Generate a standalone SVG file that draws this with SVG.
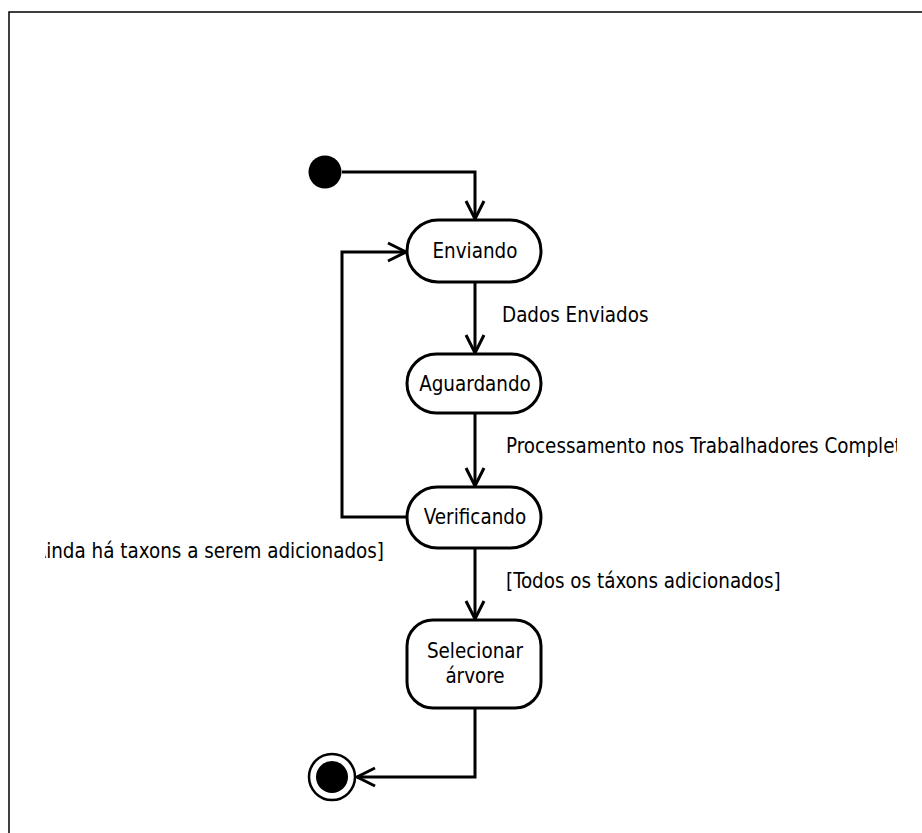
<svg xmlns="http://www.w3.org/2000/svg" width="922" height="833" viewBox="0 0 922 833">
  <style>
    .node { fill: #ffffff; stroke: #000000; stroke-width: 3; }
    .edge { fill: none; stroke: #000000; stroke-width: 3; }
    .lbl { font-family: "DejaVu Sans Condensed", "DejaVu Sans", sans-serif; font-stretch: condensed; font-size: 20.4px; fill: #000000; }
    .mid { text-anchor: middle; }
  </style>
  <defs>
    <marker id="arrow" markerUnits="userSpaceOnUse" markerWidth="40" markerHeight="40" viewBox="-20 -20 40 40" refX="0" refY="0" orient="auto" overflow="visible">
      <path d="M-18,-9 L0,0 L-18,9" fill="none" stroke="#000000" stroke-width="3"/>
    </marker>
    <clipPath id="clipLeft"><rect x="45" y="520" width="400" height="60"/></clipPath>
    <clipPath id="clipRight"><rect x="490" y="420" width="407" height="50"/></clipPath>
  </defs>
  <rect x="0" y="0" width="922" height="833" fill="#ffffff"/>
  <path d="M9,833 V12 H922" fill="none" stroke="#000000" stroke-width="1.5"/>

  <g id="connectors">
    <path class="edge" d="M342,172 H475 V219" marker-end="url(#arrow)"/>
    <path class="edge" d="M475,282 V353" marker-end="url(#arrow)"/>
    <path class="edge" d="M475,413 V486" marker-end="url(#arrow)"/>
    <path class="edge" d="M407,517 H342 V252 H406" marker-end="url(#arrow)"/>
    <path class="edge" d="M475,548 V619" marker-end="url(#arrow)"/>
    <path class="edge" d="M475,708 V777 H357" marker-end="url(#arrow)"/>
    <text class="lbl" x="502" y="322">Dados Enviados</text>
    <g clip-path="url(#clipRight)"><text class="lbl" x="506" y="453">Processamento nos Trabalhadores Complet</text></g>
    <g clip-path="url(#clipLeft)"><text class="lbl" x="384" y="558" text-anchor="end">[Ainda há taxons a serem adicionados]</text></g>
    <text class="lbl" x="506" y="588">[Todos os táxons adicionados]</text>
  </g>

  <g id="initial">
    <circle cx="325" cy="172" r="16.5" fill="#000000"/>
  </g>
  <g id="enviando">
    <rect class="node" x="407" y="220" width="134" height="62" rx="31" ry="31"/>
    <text class="lbl mid" x="475" y="258">Enviando</text>
  </g>
  <g id="aguardando">
    <rect class="node" x="407" y="354" width="134" height="59" rx="29.5" ry="29.5"/>
    <text class="lbl mid" x="475" y="391">Aguardando</text>
  </g>
  <g id="verificando">
    <rect class="node" x="407" y="487" width="134" height="61" rx="30.5" ry="30.5"/>
    <text class="lbl mid" x="475" y="524">Verificando</text>
  </g>
  <g id="selecionar">
    <rect class="node" x="407" y="620" width="134" height="88" rx="26" ry="26"/>
    <text class="lbl mid" x="475" y="658">Selecionar</text>
    <text class="lbl mid" x="475" y="683">árvore</text>
  </g>
  <g id="final">
    <circle cx="332" cy="777" r="23" fill="#ffffff" stroke="#000000" stroke-width="2.5"/>
    <circle cx="332" cy="777" r="16" fill="#000000"/>
  </g>
</svg>
